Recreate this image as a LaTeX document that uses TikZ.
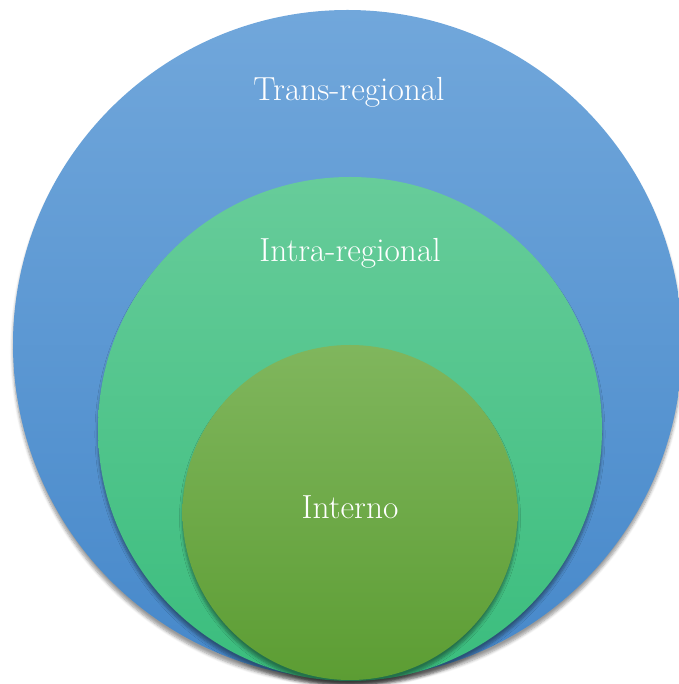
\documentclass[tikz,border=0pt]{standalone}
\usetikzlibrary{shadows.blur}
\definecolor{transtop}{HTML}{71A7DB}
\definecolor{transbot}{HTML}{4688CA}
\definecolor{intratop}{HTML}{67CC9A}
\definecolor{intrabot}{HTML}{3ABD7D}
\definecolor{interntop}{HTML}{80B65D}
\definecolor{internbot}{HTML}{5C9D33}
\tikzset{
  ring/.style = {blur shadow = {shadow xshift = 0pt, shadow yshift = -3pt,
      shadow blur steps = 6, shadow opacity = 40}},
  label/.style = {text = white, anchor = base, font = \fontsize{19}{22}\selectfont}
}
\begin{document}
\begin{tikzpicture}
      \useasboundingbox (0, 0) rectangle (13.56, 13.68);
      \shade [ring, top color = transtop, bottom color = transbot] (6.95, 6.79) circle [radius = 6.69];
      \shade [ring, top color = intratop, bottom color = intrabot] (7, 5.10) circle [radius = 5.04];
      \shade [ring, top color = interntop, bottom color = internbot] (7, 3.43) circle [radius = 3.35];
      \node (trans) at (6.98, 11.66) [label] {Trans-regional};
      \node (intra) at (7, 8.44) [label] {Intra-regional};
      \node (interno) at (7, 3.30) [label] {Interno};
    \end{tikzpicture}
\end{document}
